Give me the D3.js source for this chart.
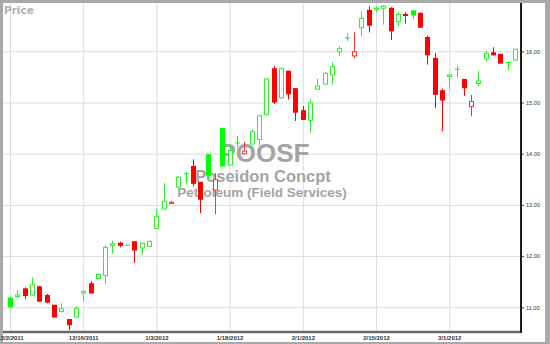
<!DOCTYPE html>
<html><head><meta charset="utf-8">
<script src="https://cdn.jsdelivr.net/npm/d3@7/dist/d3.min.js"></script>
<style>
html,body{margin:0;padding:0;background:#fff;}
svg{display:block;}
</style></head>
<body>
<script>
const dates = [
"12/2/2011","12/5/2011","12/6/2011","12/7/2011","12/8/2011","12/9/2011",
"12/12/2011","12/13/2011","12/14/2011","12/15/2011","12/16/2011",
"12/19/2011","12/20/2011","12/21/2011","12/22/2011","12/23/2011",
"12/27/2011","12/28/2011","12/29/2011","12/30/2011",
"1/3/2012","1/4/2012","1/5/2012","1/6/2012",
"1/9/2012","1/10/2012","1/11/2012","1/12/2012","1/13/2012",
"1/17/2012","1/18/2012","1/19/2012","1/20/2012",
"1/23/2012","1/24/2012","1/25/2012","1/26/2012","1/27/2012",
"1/30/2012","1/31/2012","2/1/2012","2/2/2012","2/3/2012",
"2/6/2012","2/7/2012","2/8/2012","2/9/2012","2/10/2012",
"2/13/2012","2/14/2012","2/15/2012","2/16/2012","2/17/2012",
"2/21/2012","2/22/2012","2/23/2012","2/24/2012",
"2/27/2012","2/28/2012","2/29/2012","3/1/2012","3/2/2012",
"3/5/2012","3/6/2012","3/7/2012","3/8/2012","3/9/2012",
"3/12/2012","3/13/2012","3/14/2012"];
const open = [11.19,11.20,11.37,11.23,11.41,11.24,11.05,10.91,10.77,10.80,
11.27,11.47,11.55,11.61,12.20,12.26,12.22,12.29,12.15,12.18,
12.53,12.91,13.02,13.34,13.62,13.76,13.45,13.99,13.28,14.50,
13.77,14.22,13.99,14.18,14.27,14.76,15.67,15.08,15.62,15.28,
14.85,14.64,15.25,15.35,15.53,15.98,16.27,15.90,16.45,16.81,
16.80,16.83,16.85,16.57,16.73,16.80,16.75,16.28,15.87,15.24,
15.50,15.66,15.46,14.91,15.36,15.84,15.98,15.95,15.79,15.82];
const high = [11.21,11.33,11.39,11.58,11.42,11.26,11.05,11.08,10.77,11.02,
11.33,11.51,11.66,12.22,12.30,12.28,12.22,12.29,12.26,12.30,
12.91,13.43,13.07,13.57,13.64,13.89,13.45,13.99,13.62,14.50,
14.17,14.35,14.23,14.48,14.76,15.48,15.71,15.68,15.62,15.28,
14.93,15.06,15.46,15.60,15.79,16.10,16.35,16.37,16.78,16.88,
16.88,16.90,16.86,16.76,16.76,16.80,16.76,16.31,15.97,15.27,
15.55,15.71,15.46,15.15,15.62,16.00,16.08,15.95,15.79,16.05];
const low = [10.99,11.19,11.16,11.23,11.11,11.08,10.80,10.90,10.56,10.80,
11.12,11.27,11.55,11.45,12.05,12.17,12.22,11.87,12.03,12.18,
12.53,12.91,13.02,13.32,13.42,13.36,12.84,13.49,12.82,13.75,
13.77,14.13,13.99,14.18,14.17,14.75,14.97,15.08,15.06,14.64,
14.66,14.41,15.25,15.34,15.35,15.90,16.20,15.87,16.29,16.37,
16.76,16.52,16.22,16.49,16.54,16.64,16.46,15.74,14.89,14.44,
15.25,15.49,15.13,14.73,15.32,15.80,15.92,15.76,15.63,15.82];
const close = [11.00,11.25,11.22,11.45,11.11,11.09,10.80,10.98,10.65,10.99,
11.32,11.27,11.65,12.18,12.25,12.20,12.22,12.11,12.26,12.30,
12.78,13.08,13.06,13.55,13.62,13.41,13.10,13.57,13.50,13.75,
14.07,14.22,14.06,14.44,14.75,15.47,15.00,15.67,15.16,14.80,
14.66,15.00,15.33,15.58,15.71,16.06,16.27,16.00,16.65,16.50,
16.85,16.89,16.39,16.73,16.69,16.70,16.46,15.92,15.15,15.04,
15.55,15.66,15.28,15.03,15.43,15.97,15.92,15.76,15.79,16.05];
const priorClose = 10.95;
const xTickLabels = ["12/2/2011","12/16/2011","1/3/2012","1/18/2012","2/1/2012","2/15/2012","3/1/2012"];
const yTicks = [11,12,13,14,15,16];
const symbol = "POOSF";
const company = "Poseidon Concpt";
const sector = "Petroleum (Field Services)";

const W = 550, H = 344;
const svg = d3.select("body").append("svg").attr("width", W).attr("height", H);

// frame
svg.append("rect").attr("width", W).attr("height", H).attr("fill", "#a9a9a9");
svg.append("rect").attr("x", 3).attr("y", 3).attr("width", 542).attr("height", 339).attr("fill", "#fff");

const plotL = 3, plotR = 521, plotT = 3, plotB = 332;
const x = d3.scalePoint().domain(dates).range([10, 515.1]);
const y = d3.scaleLinear().domain([11, 16]).range([307.3, 51.3]);

// horizontal gridlines
svg.append("g").attr("transform", `translate(${plotR},0)`)
  .call(d3.axisLeft(y).tickValues(yTicks).tickSize(plotR - plotL).tickFormat(""))
  .call(g => { g.select(".domain").remove(); g.selectAll("line").attr("stroke", "#dcdcdc"); });
// vertical gridlines
svg.append("g").attr("transform", `translate(0,${plotB})`)
  .call(d3.axisTop(x).tickValues(xTickLabels).tickSize(plotB - plotT).tickFormat(""))
  .call(g => { g.select(".domain").remove(); g.selectAll("line").attr("stroke", "#dcdcdc"); });

// watermark
const wm = svg.append("g").attr("fill", "#a4a4a4").attr("font-family", "Liberation Sans, Arial, sans-serif")
  .attr("font-weight", "bold").attr("text-anchor", "middle");
wm.append("text").attr("x", 264).attr("y", 162).attr("font-size", 26).text(symbol);
wm.append("text").attr("x", 263).attr("y", 182).attr("font-size", 16.5).text(company);
wm.append("text").attr("x", 262).attr("y", 197).attr("font-size", 13.5).text(sector);

// candles
const data = dates.map((d, i) => ({
  date: d, o: open[i], h: high[i], l: low[i], c: close[i],
  prev: i === 0 ? priorClose : close[i - 1]
}));
const GREEN = "#00ff00", GREEN_H = "#2cf02c", RED = "#ff0000", RED_H = "#ff3030";
const cg = svg.append("g");
data.forEach(d => {
  const up = d.c >= d.prev;
  const hollow = d.c > d.o;
  const cx = Math.round(x(d.date));
  const col = up ? (hollow ? GREEN_H : GREEN) : (hollow ? RED_H : RED);
  const top = y(Math.max(d.o, d.c)), bot = y(Math.min(d.o, d.c));
  cg.append("line").attr("x1", cx + 0.5).attr("x2", cx + 0.5)
    .attr("y1", y(d.h)).attr("y2", y(d.l)).attr("stroke", col).attr("stroke-width", 1);
  if (hollow) {
    cg.append("rect").attr("x", cx - 1.5).attr("width", 4)
      .attr("y", top + 0.5).attr("height", Math.max(1, bot - top - 1))
      .attr("fill", "#fff").attr("stroke", col).attr("stroke-width", 1);
  } else {
    cg.append("rect").attr("x", cx - 2).attr("width", 5)
      .attr("y", top).attr("height", Math.max(1, bot - top)).attr("fill", col);
  }
});

// right axis
const ya = svg.append("g").attr("transform", `translate(${plotR},0)`)
  .call(d3.axisRight(y).tickValues(yTicks).tickSize(3).tickPadding(2).tickFormat(d3.format(".2f")));
ya.select(".domain").remove();
ya.selectAll("line").attr("stroke", "#444");
ya.selectAll("text").attr("font-family", "Liberation Sans, Arial, sans-serif").attr("font-size", 5.6).attr("fill", "#333");
svg.append("line").attr("x1", plotR).attr("x2", plotR).attr("y1", 3).attr("y2", 333)
  .attr("stroke", "#1e1e1e").attr("stroke-width", 2);

// bottom axis
svg.append("line").attr("x1", 3).attr("x2", plotR - 1).attr("y1", plotB).attr("y2", plotB)
  .attr("stroke", "#6a6a6a").attr("stroke-width", 2.4);
const xa = svg.append("g").attr("transform", `translate(0,${plotB})`)
  .call(d3.axisBottom(x).tickValues(xTickLabels).tickSize(0).tickPadding(4));
xa.select(".domain").remove();
xa.selectAll("text").attr("font-family", "Liberation Sans, Arial, sans-serif").attr("font-size", 6)
  .attr("font-weight", "bold").attr("fill", "#333");

// Price label
svg.append("text").attr("x", 4).attr("y", 14).attr("font-family", "DejaVu Sans, Verdana, sans-serif")
  .attr("font-weight", "bold").attr("font-size", 10.5).attr("fill", "#b0b0b0").text("Price");
</script>
</body></html>
